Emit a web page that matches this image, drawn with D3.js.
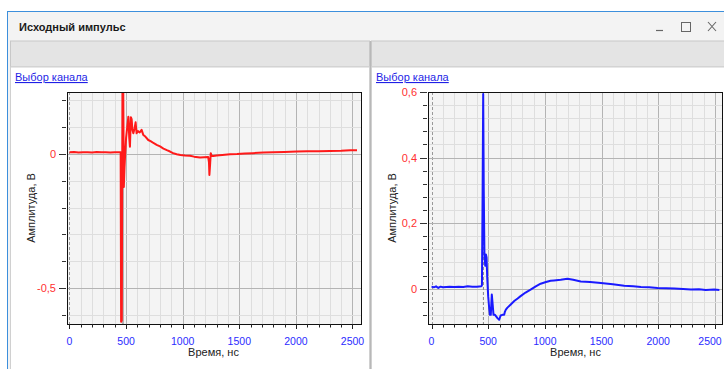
<!DOCTYPE html>
<html><head><meta charset="utf-8">
<script src="https://cdn.jsdelivr.net/npm/d3@7/dist/d3.min.js"></script>
<style>
html,body{margin:0;padding:0;background:#fff;}
svg{display:block;font-family:"Liberation Sans",Arial,sans-serif;}
</style></head>
<body>
<svg id="c" width="724" height="369"></svg>
<script>
// ---- data ----
const windowTitle = "Исходный импульс";
const linkText = "Выбор канала";
const xTitle = "Время, нс";
const yTitle = "Амплитуда, В";
const xTicks = [0, 500, 1000, 1500, 2000, 2500];
const yTicksLeft = [-0.5, 0];
const yTicksRight = [0, 0.2, 0.4, 0.6];

const redT = [0,40,80,120,160,200,240,280,320,360,400,440,452,456,462,468,474,480,486,492,500,510,520,528,534,542,549,556,564,575,584,593,605,620,637,652,670,696,720,745,770,800,830,860,888,915,947,980,1020,1064,1100,1153,1190,1225,1232,1236,1242,1248,1256,1270,1300,1350,1418,1480,1550,1620,1712,1800,1900,2007,2100,2200,2301,2400,2480,2540];
const redV = [0.006,0.007,0.005,0.006,0.006,0.005,0.007,0.006,0.006,0.005,0.006,0.006,0.006,-0.626,-0.62,0.26,0.3,-0.123,-0.05,0.0,0.06,0.1,0.139,0.06,0.027,0.137,0.13,0.09,0.077,0.095,0.118,0.077,0.085,0.08,0.09,0.071,0.065,0.052,0.047,0.04,0.034,0.028,0.02,0.014,0.009,0.003,-0.001,-0.004,-0.006,-0.007,-0.01,-0.013,-0.012,-0.011,-0.03,-0.078,-0.04,0.003,-0.008,-0.008,-0.006,-0.004,-0.001,0.0,0.002,0.003,0.005,0.006,0.007,0.009,0.01,0.01,0.011,0.012,0.014,0.014];

const blueT = [0,20,40,60,80,100,130,160,200,240,280,320,360,400,440,445,451,456,461,467,474,480,486,492,500,509,516,523,532,540,547,560,582,597,610,625,641,648,656,670,697,730,760,786,830,874,920,963,1010,1051,1081,1140,1199,1250,1317,1400,1494,1600,1700,1780,1848,1920,1995,2070,2143,2220,2290,2360,2420,2494,2540];
const blueV = [0.006,0.004,0.007,0.002,0.006,0.004,0.005,0.006,0.005,0.006,0.005,0.007,0.006,0.006,0.007,0.01,0.3,0.594,0.3,0.104,0.07,0.104,0.095,0.03,-0.023,-0.06,-0.08,-0.08,-0.018,-0.05,-0.08,-0.08,-0.09,-0.095,-0.082,-0.08,-0.08,-0.07,-0.064,-0.058,-0.049,-0.038,-0.03,-0.023,-0.012,-0.003,0.007,0.015,0.02,0.024,0.025,0.027,0.03,0.027,0.022,0.02,0.017,0.013,0.009,0.007,0.005,0.004,0.002,0.001,0.0,-0.001,-0.003,-0.002,-0.004,-0.003,-0.004];

const markerLeft = 472;
const markerRight = 458;

// ---- frame ----
const svg = d3.select("#c");
svg.append("rect").attr("x",7.5).attr("y",11.5).attr("width",720).attr("height",360)
  .attr("fill","#f3f3f3").attr("stroke","#3c8fdc").attr("stroke-width",1);
svg.append("text").attr("x",19).attr("y",31).attr("font-weight","bold").attr("font-size",11)
  .attr("fill","#1a1a1a").text(windowTitle);
// window controls
svg.append("line").attr("x1",656).attr("x2",663).attr("y1",30.5).attr("y2",30.5).attr("stroke","#666").attr("stroke-width",1.2);
svg.append("rect").attr("x",681.5).attr("y",22.5).attr("width",9).attr("height",9).attr("fill","none").attr("stroke","#666");
svg.append("path").attr("d","M708,22L716,31M716,22L708,31").attr("stroke","#666").attr("stroke-width",1.1);

// panels
function panel(x0,x1){
  svg.append("rect").attr("x",x0).attr("y",41).attr("width",x1-x0).attr("height",26)
    .attr("fill","#e4e4e4").attr("stroke","#c8c8c8");
  svg.append("rect").attr("x",x0).attr("y",67).attr("width",x1-x0).attr("height",310)
    .attr("fill","#fff").attr("stroke","#d0d0d0");
}
panel(10.5,369.5);
panel(371.5,730);
svg.append("line").attr("x1",370.5).attr("x2",370.5).attr("y1",41).attr("y2",369).attr("stroke","#b8b8b8").attr("stroke-width",1);

function link(x){
  svg.append("text").attr("x",x).attr("y",81).attr("font-size",11).attr("fill","#1f1fe6")
    .attr("text-decoration","underline").text(linkText);
}
link(15); link(376);

function chart(o){
  const g = svg.append("g");
  const x = d3.scaleLinear().domain(o.xd).range([o.x0,o.x1]);
  const y = d3.scaleLinear().domain(o.yd).range([o.y1,o.y0]);
  const clipId = "clip"+o.id;
  svg.append("clipPath").attr("id",clipId).append("rect")
    .attr("x",o.x0).attr("y",o.y0).attr("width",o.x1-o.x0).attr("height",o.y1-o.y0);
  g.append("rect").attr("x",o.x0).attr("y",o.y0).attr("width",o.x1-o.x0).attr("height",o.y1-o.y0).attr("fill","#f4f4f4");
  const xMinor = d3.range(0, o.xd[1], 100);
  const yMinor = d3.range(Math.ceil(o.yd[0]/o.ystep - 1e-6), Math.floor(o.yd[1]/o.ystep + 1e-6)+1).map(k=>+(k*o.ystep).toFixed(4));
  const isMajX = v => xTicks.includes(v);
  const isMajY = v => o.yt.some(t=>Math.abs(t-v)<1e-6);
  const gg = g.append("g").attr("clip-path",`url(#${clipId})`);
  gg.selectAll(".vx").data(xMinor.filter(v=>v>0)).join("line")
    .attr("x1",d=>Math.round(x(d))+0.5).attr("x2",d=>Math.round(x(d))+0.5).attr("y1",o.y0).attr("y2",o.y1)
    .attr("stroke",d=>isMajX(d)?"#b4b4b4":"#dedede").attr("stroke-width",1);
  gg.append("line").attr("x1",Math.round(x(0))+0.5).attr("x2",Math.round(x(0))+0.5).attr("y1",o.y0).attr("y2",o.y1)
    .attr("stroke","#999").attr("stroke-dasharray","3,2");
  gg.selectAll(".hy").data(yMinor).join("line")
    .attr("y1",d=>Math.round(y(d))+0.5).attr("y2",d=>Math.round(y(d))+0.5).attr("x1",o.x0).attr("x2",o.x1)
    .attr("stroke",d=>isMajY(d)?"#b4b4b4":"#dedede").attr("stroke-width",1);
  // marker
  gg.append("line").attr("x1",x(o.marker)).attr("x2",x(o.marker)).attr("y1",o.y0).attr("y2",o.y1)
    .attr("stroke",o.markerDash?"#888":"#b0b0b0").attr("stroke-width",o.markerDash?1:2)
    .attr("stroke-dasharray",o.markerDash?"3,2":null);
  // line
  const pts = o.t.map((t,i)=>[t,o.v[i]]);
  gg.append("path").datum(pts)
    .attr("d",d3.line().x(d=>x(d[0])).y(d=>y(d[1])))
    .attr("fill","none").attr("stroke",o.color).attr("stroke-width",2).attr("stroke-linejoin","round");
  // border
  g.append("rect").attr("x",o.x0+0.5).attr("y",o.y0+0.5).attr("width",o.x1-o.x0-1).attr("height",o.y1-o.y0)
    .attr("fill","none").attr("stroke","#111").attr("stroke-width",1);
  // x ticks
  const xAll = d3.range(0, o.xd[1], 100);
  g.selectAll(".xt").data(xAll).join("line")
    .attr("x1",d=>Math.round(x(d))+0.5).attr("x2",d=>Math.round(x(d))+0.5)
    .attr("y1",o.y1).attr("y2",d=>o.y1+(isMajX(d)?5:3.5)).attr("stroke","#222");
  g.selectAll(".xl").data(xTicks).join("text")
    .attr("x",d=>Math.min(x(d), o.xmaxLabel)).attr("y",o.y1+21).attr("text-anchor","middle").attr("font-size",10.5)
    .attr("fill","#2b2bff").text(d=>d);
  // y ticks
  g.selectAll(".yt").data(yMinor).join("line")
    .attr("y1",d=>Math.round(y(d))+0.5).attr("y2",d=>Math.round(y(d))+0.5)
    .attr("x1",d=>o.x0-(isMajY(d)?8:5)).attr("x2",o.x0-1).attr("stroke","#333");
  g.selectAll(".yl").data(o.yt).join("text")
    .attr("x",o.x0-11).attr("y",d=>y(d)+4).attr("text-anchor","end").attr("font-size",11)
    .attr("fill","#ff3030").text(d=>String(d).replace(".",","));
  // titles
  g.append("text").attr("x",(o.x0+o.x1)/2+(o.id==="L"?-1:0)).attr("y",o.y1+32).attr("text-anchor","middle")
    .attr("font-size",11).attr("fill","#222").text(xTitle);
  g.append("text").attr("transform",`translate(${o.ylx},208) rotate(-90)`).attr("text-anchor","middle")
    .attr("font-size",11).attr("fill","#222").text(yTitle);
}

chart({id:"L", x0:67, x1:362, y0:92, y1:324, xd:[-22,2584], yd:[-0.634,0.231], ystep:0.1,
  yt:yTicksLeft, t:redT, v:redV, color:"#ff1a1a", marker:markerLeft, markerDash:false, ylx:35, xmaxLabel:1000});
chart({id:"R", x0:428, x1:723, y0:92, y1:324, xd:[-31,2572], yd:[-0.108,0.6], ystep:0.04,
  yt:yTicksRight, t:blueT, v:blueV, color:"#1a1aff", marker:markerRight, markerDash:true, ylx:396, xmaxLabel:710});
</script>
</body></html>
